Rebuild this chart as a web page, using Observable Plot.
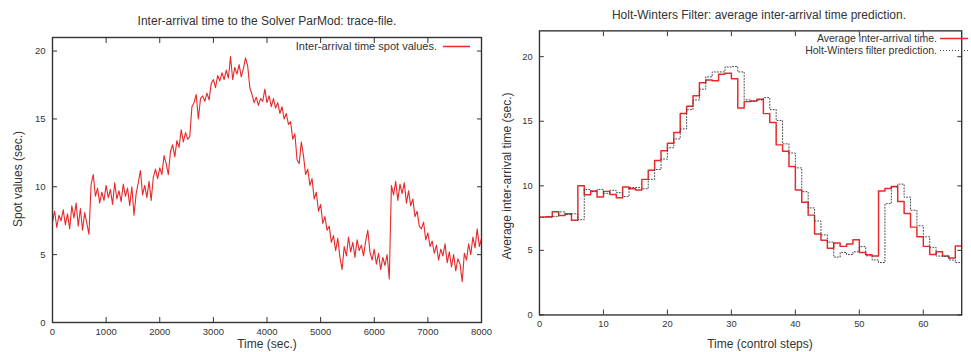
<!DOCTYPE html>
<html><head><meta charset="utf-8">
<script src="https://cdn.jsdelivr.net/npm/d3@7"></script>
<script src="https://cdn.jsdelivr.net/npm/@observablehq/plot@0.6"></script>
<style>
html,body{margin:0;padding:0;background:#fff;}
body{width:971px;height:352px;overflow:hidden;position:relative;font-family:"Liberation Sans",Arial,sans-serif;}
.abs{position:absolute;left:0;top:0;}
</style></head><body>
<div id="left" class="abs" style="left:0px;top:0px"></div>
<div id="right" class="abs" style="left:490px;top:0px"></div>
<svg id="overlay" class="abs" width="971" height="352" style="pointer-events:none;overflow:visible"></svg>
<script>
// ---------- Left panel data: spot inter-arrival values (sec.), sampled every 40 s from 0 to 8000 s
const spotInterval = 40;
const spotValues = [
  7.4, 8.2, 7.0, 7.9, 7.5, 8.3, 7.2, 8.0, 6.9, 8.6, 7.7, 8.8, 7.1, 8.4, 6.8, 8.1, 7.3, 6.5,
  10.2, 10.9, 9.3, 9.9, 8.8, 9.6, 9.0, 10.1, 9.2, 9.8, 8.7, 10.3, 9.1, 9.7, 8.9, 10.2, 9.3, 9.9, 8.6, 10.0,
  7.9, 9.5, 10.3, 11.2, 9.4, 10.1, 9.2, 10.4, 9.0, 10.7, 11.3, 10.6, 11.4, 10.9, 12.3, 11.7, 10.9, 12.6, 13.1, 12.2,
  13.4, 12.9, 14.2, 13.3, 14.0, 13.5, 13.7, 15.9, 16.2, 16.8, 15.0, 16.5, 16.7, 16.3, 16.9, 16.4, 17.6, 17.9, 17.3, 18.2,
  17.8, 18.4, 17.9, 18.6, 18.0, 19.6, 17.9, 18.8, 18.3, 19.0, 18.1, 18.7, 19.5, 18.9, 17.3, 16.8, 16.2, 16.6, 16.0, 16.5,
  16.3, 17.2, 16.2, 16.7, 15.9, 16.5, 15.8, 16.2, 15.4, 15.9, 15.0, 15.4, 14.6, 14.8, 13.5, 13.9, 12.0, 11.7, 13.3, 12.3,
  10.9, 11.3, 10.1, 10.6, 9.1, 9.6, 8.2, 8.7, 7.3, 7.8, 6.8, 7.1, 5.9, 6.4, 5.3, 6.2, 4.8, 3.9, 5.6, 4.9,
  6.3, 5.2, 5.9, 4.8, 6.1, 5.3, 5.7, 4.9, 6.0, 6.8, 5.2, 4.6, 5.4, 4.3, 5.1, 3.9, 4.8, 4.2, 5.0, 3.2,
  10.1, 9.4, 10.4, 9.0, 10.2, 9.5, 10.3, 8.8, 9.7, 8.6, 9.1, 7.8, 8.2, 7.1, 6.9, 7.4, 6.1, 6.6, 5.6, 6.0,
  5.1, 5.7, 4.6, 5.4, 4.9, 5.8, 4.4, 5.2, 4.1, 5.0, 3.8, 4.7, 4.3, 3.0, 5.1, 4.6, 5.8, 5.0, 6.3, 5.5,
  6.9, 5.6, 6.2
];
const leftXTicks = [0, 1000, 2000, 3000, 4000, 5000, 6000, 7000, 8000];
const leftYTicks = [0, 5, 10, 15, 20];
const leftTitle = "Inter-arrival time to the Solver ParMod: trace-file.";
const leftXLabel = "Time (sec.)";
const leftYLabel = "Spot values (sec.)";
const leftLegend = "Inter-arrival time spot values.";

// ---------- Right panel data: per control step
const avgValues = [
  7.58, 7.6, 8.0, 7.7, 7.83, 7.33, 10.0, 9.3, 9.6, 9.14,
  9.57, 9.32, 9.07, 9.9, 9.77, 9.67, 10.5, 11.2, 11.96, 12.72,
  13.3, 14.13, 15.6, 16.17, 16.98, 17.98, 18.19, 18.14, 18.64, 18.72,
  18.29, 16.02, 16.52, 16.57, 16.7, 15.59, 14.9, 13.17, 12.67, 11.49,
  9.67, 8.72, 7.73, 6.27, 5.79, 5.16, 5.57, 5.31, 5.49, 5.82,
  4.84, 4.66, 4.56, 9.6, 9.8, 9.95, 8.79, 7.86, 6.8, 6.05,
  5.31, 4.68, 4.89, 4.56, 4.41, 5.34
];
const hwValues = [
  7.55, 7.57, 7.63, 7.98, 7.78, 7.83, 7.38, 9.72, 9.55, 9.72,
  9.42, 9.65, 9.47, 9.17, 9.87, 9.87, 9.77, 10.5, 11.26, 12.07,
  12.95, 13.63, 14.4, 15.9, 16.65, 17.48, 18.44, 18.82, 18.82, 19.2,
  19.24, 18.82, 16.65, 16.55, 16.65, 16.83, 15.9, 15.06, 13.25, 12.54,
  11.39, 9.55, 8.29, 7.28, 6.2, 5.64, 4.48, 4.84, 4.68, 4.89,
  5.29, 4.58, 4.26, 4.06, 8.62, 9.92, 10.13, 9.12, 8.11, 6.9,
  6.05, 5.24, 4.56, 4.53, 4.26, 4.06
];
const rightXTicks = [0, 10, 20, 30, 40, 50, 60];
const rightYTicks = [0, 5, 10, 15, 20];
const rightTitle = "Holt-Winters Filter: average inter-arrival time prediction.";
const rightXLabel = "Time (control steps)";
const rightYLabel = "Average inter-arrival time (sec.)";
const rightLegend = ["Average inter-arrival time.", "Holt-Winters filter prediction."];

// ---------- build tables
const spot = spotValues.map((v, i) => ({t: i * spotInterval, v}));
function stepTable(vals) {
  const rows = vals.map((v, k) => ({k, v}));
  rows.push({k: vals.length, v: vals[vals.length - 1]}); // close the last step
  return rows;
}
const avgData = stepTable(avgValues);
const hwData = stepTable(hwValues);

const RED = "#e8282a";
const FONT = "'Liberation Sans', Arial, sans-serif";
const baseStyle = {fontFamily: FONT, fontSize: "9.5px", color: "#333", overflow: "visible", background: "transparent"};

function axes(xt, yt) {
  return [
    Plot.axisX(xt, {anchor: "bottom", tickSize: -5, tickPadding: 11, tickFormat: "d", label: null, stroke: "#333"}),
    Plot.axisX(xt, {anchor: "top", tickSize: -5, tickFormat: () => "", label: null, stroke: "#333"}),
    Plot.axisY(yt, {anchor: "left", tickSize: -5, tickPadding: 12, tickFormat: "d", label: null, stroke: "#333"}),
    Plot.axisY(yt, {anchor: "right", tickSize: -5, tickFormat: () => "", label: null, stroke: "#333"})
  ];
}

const left = Plot.plot({
  width: 490, height: 352,
  marginLeft: 52, marginRight: 9, marginTop: 37, marginBottom: 30,
  style: baseStyle,
  x: {domain: [0, 8000]},
  y: {domain: [0, 21]},
  marks: [
    ...axes(leftXTicks, leftYTicks),
    Plot.line(spot, {x: "t", y: "v", stroke: RED, strokeWidth: 1.1}),
    Plot.frame({stroke: "#333", strokeWidth: 1.4})
  ]
});
document.getElementById("left").appendChild(left);

const right = Plot.plot({
  width: 491, height: 352,
  marginLeft: 50, marginRight: 10, marginTop: 31, marginBottom: 31,
  style: baseStyle,
  x: {domain: [0, 66]},
  y: {domain: [0, 22]},
  marks: [
    ...axes(rightXTicks, rightYTicks),
    Plot.line(avgData, {x: "k", y: "v", curve: "step-after", stroke: RED, strokeWidth: 1.5}),
    Plot.line(hwData, {x: "k", y: "v", curve: "step-after", stroke: "#444", strokeWidth: 1, strokeDasharray: "1,2"}),
    Plot.frame({stroke: "#333", strokeWidth: 1.4})
  ]
});
document.getElementById("right").appendChild(right);

// ---------- overlay texts and legends
const ov = d3.select("#overlay").style("font-family", FONT).attr("fill", "#333");
function txt(x, y, s, size, anchor, rot) {
  const t = ov.append("text").attr("font-size", size).attr("text-anchor", anchor).attr("fill", "#333").text(s);
  if (rot) t.attr("transform", `translate(${x},${y}) rotate(-90)`);
  else t.attr("x", x).attr("y", y);
  return t;
}
txt(267, 25, leftTitle, 12, "middle");
txt(759, 18.5, rightTitle, 12, "middle");
txt(267, 347.5, leftXLabel, 12, "middle");
txt(760, 347.5, rightXLabel, 12, "middle");
txt(22, 179, leftYLabel, 12, "middle", true);
txt(511, 176, rightYLabel, 12, "middle", true);

txt(437, 50, leftLegend, 11, "end");
ov.append("line").attr("x1", 443).attr("x2", 470).attr("y1", 46.5).attr("y2", 46.5).attr("stroke", RED).attr("stroke-width", 1.5);
txt(937, 42, rightLegend[0], 10.5, "end");
ov.append("line").attr("x1", 940).attr("x2", 968).attr("y1", 38.5).attr("y2", 38.5).attr("stroke", RED).attr("stroke-width", 1.5);
txt(937, 54, rightLegend[1], 10.5, "end");
ov.append("line").attr("x1", 940).attr("x2", 968).attr("y1", 50.5).attr("y2", 50.5).attr("stroke", "#444").attr("stroke-width", 1).attr("stroke-dasharray", "1,2");
</script>
</body></html>
